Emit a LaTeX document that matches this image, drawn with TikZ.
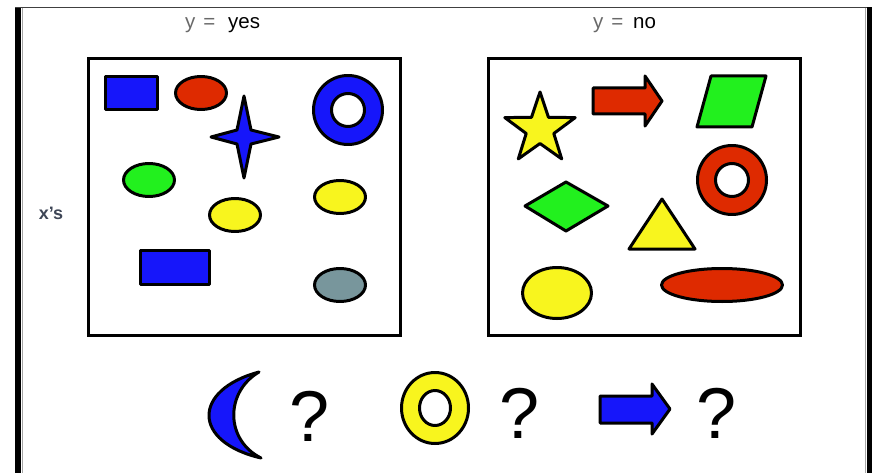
\documentclass[tikz,border=0pt]{standalone}
\usepackage{fontspec}
\setmainfont{Liberation Sans}
\usetikzlibrary{shapes.geometric}
\definecolor{shpblue}{RGB}{22,22,250}
\definecolor{shpred}{RGB}{222,42,0}
\definecolor{shpgreen}{RGB}{34,240,30}
\definecolor{shpyellow}{RGB}{248,245,30}
\definecolor{shpgray}{RGB}{120,150,156}
\definecolor{lblgray}{RGB}{105,105,105}
\definecolor{xgray}{RGB}{62,70,86}
\tikzset{
  shp/.style  = {draw=black, line width=3pt, line join=round},
  box/.style  = {draw=black, line width=3pt},
  lbl/.style  = {font=\fontsize{20.5}{20.5}\selectfont, inner sep=0pt, anchor=base west},
  ques/.style = {font=\fontsize{72}{72}\selectfont, inner sep=0pt},
}

\begin{document}
\begin{tikzpicture}[x=1pt, y=-1pt]
  \useasboundingbox (0,0) rectangle (872,473);
  % frame
  \fill[black] (15,7) rectangle (21,473);
  \fill[black] (867,7) rectangle (872,473);
  \draw[black!75, line width=1.5pt] (15,7.5) -- (867,7.5);
  \draw[black!35, line width=1pt] (22.5,8) -- (22.5,473);
  \draw[black!35, line width=1pt] (865.5,8) -- (865.5,473);

  % headers
  \node[lbl, text=lblgray] (yeq1) at (185,29) {y\hspace{8pt}=};
  \node[lbl] (yes) at (228,29) {yes};
  \node[lbl, text=lblgray] (yeq2) at (593,29) {y\hspace{8pt}=};
  \node[lbl] (no) at (633,29) {no};
  \node[font=\fontsize{18}{18}\selectfont\bfseries, text=xgray, inner sep=0pt]
    (xs) at (51,213) {x’s};

  % y = yes
  \draw[box] (88.5,58.5) rectangle (400.5,335.5);
  \filldraw[shp, fill=shpblue] (105.5,76.5) rectangle (157.5,109.5);
  \filldraw[shp, fill=shpred] (201,93) ellipse [x radius=25.5, y radius=16.5];
  \filldraw[shp, fill=shpblue] (211,137) -- (237,130) -- (244,96) -- (251,130)
    -- (279,137) -- (251,144) -- (244,178) -- (237,144) -- cycle;
  \filldraw[shp, fill=shpblue, even odd rule] (348,110) circle (34.5) (348,110) circle (16.5);
  \filldraw[shp, fill=shpgreen] (149,180) ellipse [x radius=25.5, y radius=16.5];
  \filldraw[shp, fill=shpyellow] (235,215) ellipse [x radius=25.5, y radius=16.5];
  \filldraw[shp, fill=shpyellow] (340,197) ellipse [x radius=25.5, y radius=16.5];
  \filldraw[shp, fill=shpblue] (140.5,250.5) rectangle (209.5,284.5);
  \filldraw[shp, fill=shpgray] (340,285) ellipse [x radius=25.5, y radius=16.5];

  % y = no
  \draw[box] (488.5,58.5) rectangle (800.5,335.5);
  \filldraw[shp, fill=shpyellow] (540,92) -- (548.5,117.3) -- (575.2,117.6)
    -- (553.8,133.5) -- (561.7,158.9) -- (540,143.5) -- (518.3,158.9)
    -- (526.2,133.5) -- (504.8,117.6) -- (531.5,117.3) -- cycle;
  \filldraw[shp, fill=shpred] (593,88) -- (645,88) -- (645,76) -- (662,101)
    -- (645,126) -- (645,114) -- (593,114) -- cycle;
  \filldraw[shp, fill=shpgreen] (711,76) -- (766,76) -- (752,127) -- (697,127) -- cycle;
  \filldraw[shp, fill=shpred, even odd rule] (732,180) circle (34.5) (732,180) circle (16.5);
  \filldraw[shp, fill=shpgreen] (525,206) -- (566,182) -- (608,206) -- (566,231) -- cycle;
  \filldraw[shp, fill=shpyellow] (662,199) -- (695,249) -- (629,249) -- cycle;
  \filldraw[shp, fill=shpyellow] (557,293) ellipse [x radius=34.5, y radius=25.5];
  \filldraw[shp, fill=shpred] (722,285) ellipse [x radius=60.5, y radius=16.5];

  % new x's
  \filldraw[shp, fill=shpblue] (259,372) .. controls (192,390) and (192,442) .. (261,458)
    .. controls (225,440) and (225,392) .. (259,372) -- cycle;
  \node[ques] (q1) at (310,416) {?};
  \filldraw[shp, fill=shpyellow, even odd rule] (435,408) ellipse [x radius=33.5, y radius=35.5]
    (435,408) ellipse [x radius=15.5, y radius=17.5];
  \node[ques] (q2) at (520,413) {?};
  \filldraw[shp, fill=shpblue] (600,396) -- (652,396) -- (652,384) -- (670,409)
    -- (652,434) -- (652,423) -- (600,423) -- cycle;
  \node[ques] (q3) at (717,413) {?};
\end{tikzpicture}
\end{document}
